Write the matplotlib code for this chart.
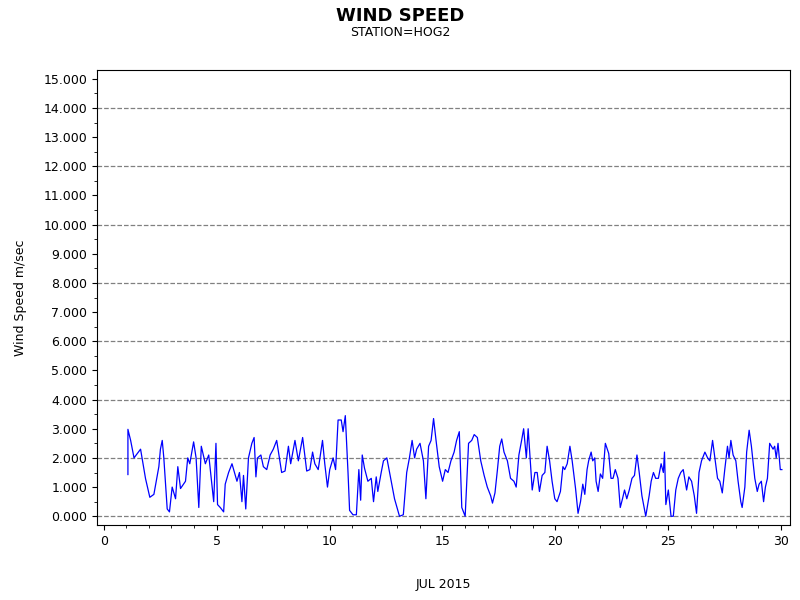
import matplotlib
matplotlib.use("Agg")
import matplotlib.pyplot as plt
from matplotlib.ticker import MultipleLocator, FormatStrFormatter

# Wind speed readings (day of July 2015, m/sec)
days = [1.07, 1.07, 1.19, 1.34, 1.63, 1.85, 2.04, 2.22, 2.44, 2.51, 2.59, 2.66, 2.81, 2.91,
        3.03, 3.18, 3.28, 3.40, 3.62, 3.72, 3.81, 3.98, 4.09, 4.21, 4.32, 4.50, 4.65, 4.79,
        4.87, 4.97, 5.04, 5.16, 5.31, 5.38, 5.53, 5.68, 5.90, 6.01, 6.12, 6.19, 6.29, 6.41,
        6.56, 6.66, 6.74, 6.81, 6.96, 7.07, 7.22, 7.37, 7.51, 7.66, 7.88, 8.03, 8.18, 8.28,
        8.47, 8.62, 8.81, 8.99, 9.13, 9.25, 9.35, 9.50, 9.69, 9.79, 9.91,
        10.01, 10.16, 10.27, 10.38, 10.52, 10.60, 10.70, 10.82, 10.89, 11.04, 11.19, 11.30,
        11.38, 11.45, 11.55, 11.70, 11.85, 11.95, 12.07, 12.14, 12.29, 12.39, 12.54, 12.66,
        12.88, 13.10, 13.27, 13.42, 13.54, 13.66, 13.77, 13.86, 14.01, 14.16, 14.27, 14.39,
        14.50, 14.61, 14.72, 14.86, 15.01, 15.13, 15.25, 15.38, 15.52, 15.63, 15.75, 15.86,
        16.01, 16.16, 16.30, 16.41, 16.55, 16.70, 16.85, 16.99, 17.14, 17.22, 17.33, 17.44,
        17.54, 17.63, 17.73, 17.88, 18.02, 18.17, 18.27, 18.39, 18.51, 18.60, 18.72, 18.80,
        18.91, 18.98, 19.10, 19.20, 19.30, 19.42, 19.54, 19.64, 19.75, 19.86, 19.98, 20.08,
        20.23, 20.34, 20.42, 20.53, 20.65, 20.75, 20.90, 21.01, 21.12, 21.22, 21.31, 21.41,
        21.48, 21.59, 21.66, 21.75, 21.81, 21.90, 22.00, 22.10, 22.22, 22.37, 22.47, 22.56,
        22.66, 22.78, 22.88, 22.98, 23.07, 23.17, 23.28, 23.40, 23.51, 23.62, 23.72, 23.84,
        24.01, 24.16, 24.25, 24.35, 24.45, 24.57, 24.69, 24.79, 24.84, 24.90, 25.01, 25.13,
        25.23, 25.34, 25.45, 25.56, 25.67, 25.82, 25.92, 26.04, 26.16, 26.26, 26.37, 26.48,
        26.63, 26.75, 26.85, 26.97, 27.07, 27.19, 27.29, 27.40, 27.51, 27.63, 27.70, 27.78,
        27.88, 28.00, 28.10, 28.22, 28.28, 28.40, 28.48, 28.59, 28.69, 28.84, 28.95, 29.03,
        29.13, 29.23, 29.31, 29.40, 29.50, 29.65, 29.72, 29.79, 29.87, 29.97, 30.04]
speed = [1.43, 2.98, 2.6, 2.0, 2.3, 1.29, 0.65, 0.75, 1.7, 2.3, 2.6, 2.0, 0.25, 0.15,
         1.0, 0.6, 1.7, 0.95, 1.2, 2.0, 1.8, 2.55, 2.0, 0.3, 2.4, 1.8, 2.1, 1.1,
         0.5, 2.5, 0.4, 0.3, 0.15, 1.1, 1.5, 1.8, 1.2, 1.5, 0.5, 1.4, 0.25, 2.0,
         2.5, 2.7, 1.35, 2.0, 2.1, 1.7, 1.6, 2.1, 2.3, 2.6, 1.5, 1.55, 2.4, 1.8,
         2.6, 1.9, 2.7, 1.55, 1.6, 2.2, 1.8, 1.6, 2.6, 1.8, 1.0,
         1.6, 2.0, 1.6, 3.3, 3.3, 2.9, 3.45, 1.5, 0.2, 0.05, 0.05, 1.6,
         0.55, 2.1, 1.65, 1.2, 1.3, 0.5, 1.35, 0.85, 1.5, 1.9, 2.0, 1.5,
         0.6, 0.0, 0.05, 1.5, 2.0, 2.6, 2.0, 2.3, 2.5, 1.9, 0.6, 2.4,
         2.6, 3.35, 2.6, 1.7, 1.2, 1.6, 1.5, 1.9, 2.2, 2.6, 2.9, 0.3,
         0.0, 2.5, 2.6, 2.8, 2.7, 1.9, 1.4, 1.0, 0.7, 0.45, 0.8, 1.6,
         2.4, 2.65, 2.2, 1.9, 1.3, 1.2, 1.0, 2.1, 2.6, 3.0, 2.0, 3.0,
         1.7, 0.9, 1.5, 1.5, 0.85, 1.4, 1.5, 2.4, 1.9, 1.2, 0.6, 0.5,
         0.85, 1.7, 1.6, 1.8, 2.4, 1.9, 0.95, 0.1, 0.5, 1.1, 0.75, 1.6,
         1.9, 2.2, 1.9, 2.0, 1.2, 0.85, 1.45, 1.3, 2.5, 2.15, 1.3, 1.3,
         1.6, 1.3, 0.3, 0.6, 0.9, 0.6, 0.9, 1.3, 1.4, 2.1, 1.5, 0.7,
         0.0, 0.7, 1.2, 1.5, 1.3, 1.3, 1.8, 1.5, 2.2, 0.4, 0.9, 0.0,
         0.0, 0.9, 1.3, 1.5, 1.6, 0.9, 1.35, 1.2, 0.7, 0.1, 1.5, 1.9,
         2.2, 2.0, 1.9, 2.6, 2.0, 1.3, 1.2, 0.8, 1.6, 2.4, 2.0, 2.6,
         2.1, 1.9, 1.2, 0.5, 0.3, 1.0, 2.2, 2.95, 2.4, 1.3, 0.85, 1.1,
         1.2, 0.5, 1.0, 1.3, 2.5, 2.3, 2.4, 2.0, 2.5, 1.6, 1.6]

fig = plt.figure(figsize=(8, 6), dpi=100)
ax = fig.add_axes([97 / 800, 75 / 600, 693 / 800, 455 / 600])

ax.plot(days, speed, color="blue", linewidth=0.9)

ax.set_xlim(-0.3, 30.4)
ax.set_ylim(-0.3, 15.3)
ax.yaxis.set_major_locator(MultipleLocator(1))
ax.yaxis.set_minor_locator(MultipleLocator(0.5))
ax.yaxis.set_major_formatter(FormatStrFormatter("%.3f"))
ax.xaxis.set_major_locator(MultipleLocator(5))
ax.xaxis.set_minor_locator(MultipleLocator(1))
ax.tick_params(labelsize=9)

for v in [0, 2, 4, 6, 8, 10, 12, 14]:
    ax.axhline(v, color="gray", linestyle="--", linewidth=0.9, zorder=0)

ax.set_xlabel("JUL 2015", fontsize=9, labelpad=22)
ax.set_ylabel("Wind Speed m/sec", fontsize=9, labelpad=12)

fig.text(0.5, 0.965, "WIND SPEED", ha="center", fontsize=13, fontweight="bold")
fig.text(0.5, 0.94, "STATION=HOG2", ha="center", fontsize=9)

fig.savefig("out.png", dpi=100)
